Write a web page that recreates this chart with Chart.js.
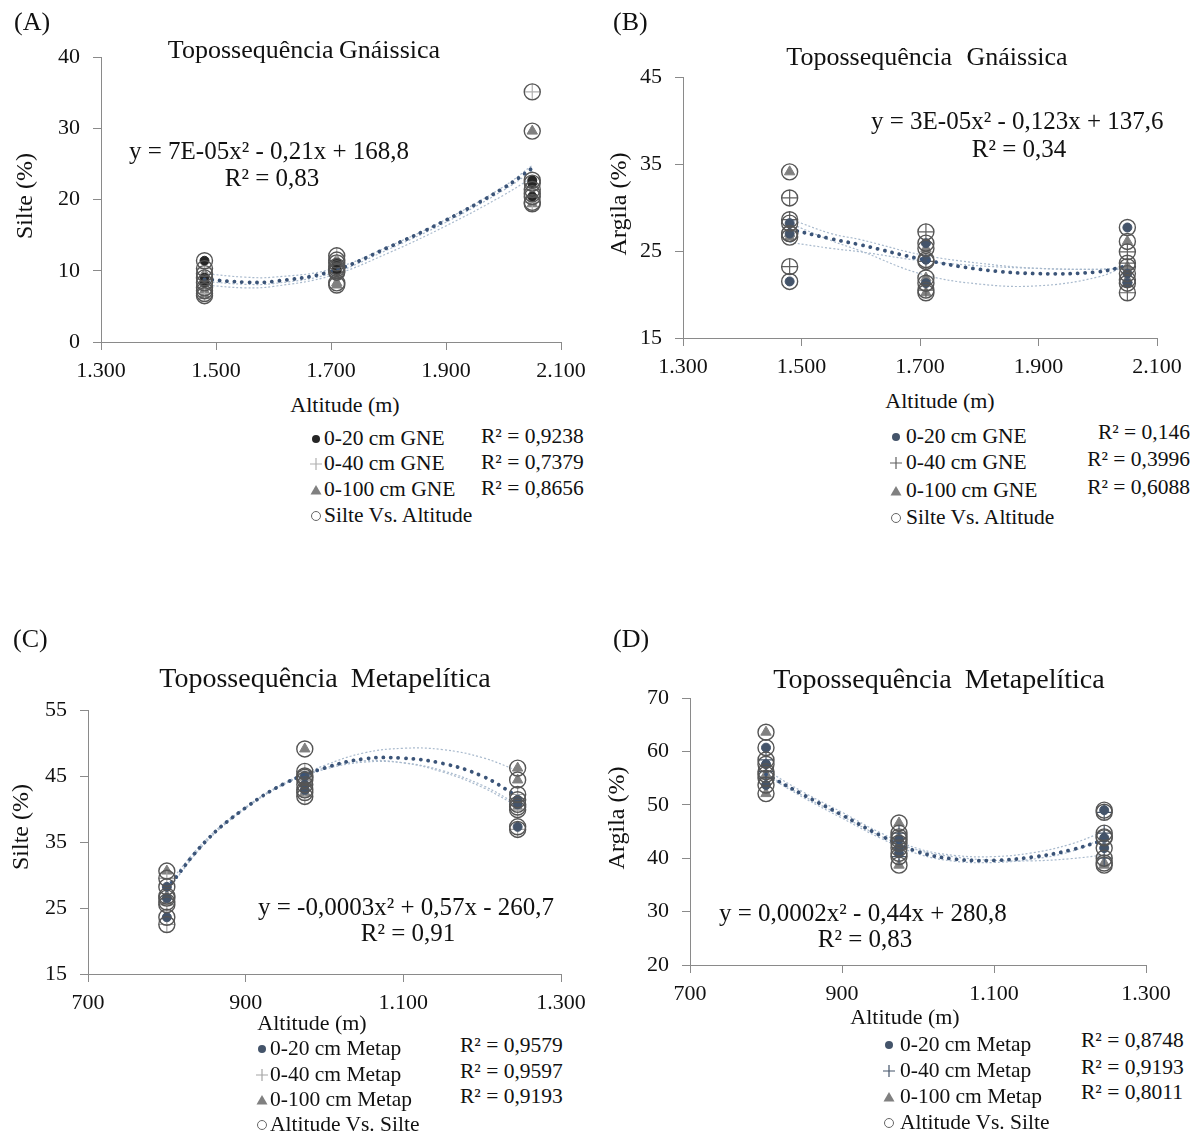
<!DOCTYPE html>
<html>
<head>
<meta charset="utf-8">
<script src="https://cdn.jsdelivr.net/npm/chart.js@4.4.0/dist/chart.umd.min.js"></script>
<style>
  body { margin: 0; background: #fff; }
  #page { position: relative; width: 1200px; height: 1133px; overflow: hidden;
          font-family: "Liberation Serif", "Times New Roman", serif; color: #111; }
  .cv { position: absolute; }
  .t { position: absolute; white-space: nowrap; line-height: 1; }
</style>
</head>
<body>
<div id="page"></div>
<script>
// ---- data ----
const altGne = [1480, 1480, 1480, 1710, 1710, 1710, 2050, 2050, 2050];
const altMet = [800, 800, 800, 975, 975, 975, 1245, 1245, 1245];

// (A) Silte, gnáissica
const silteA20 = [11.4, 9.0, 8.3, 11.1, 10.6, 10.0, 22.7, 22.3, 20.4];
const silteA40 = [10.3, 7.6, 6.8, 12.1, 10.3, 9.8, 35.1, 21.4, 19.6];
const silteA100 = [9.6, 7.2, 6.5, 11.5, 8.3, 8.0, 29.6, 20.8, 19.4];
const fitAltA = [1480, 1550, 1600, 1700, 1800, 1900, 2000, 2050];
const fitA = [8.8, 8.4, 8.5, 9.9, 13.3, 17.1, 21.6, 24.4];
const fitA20 = [9.6, 9.1, 9.1, 10.2, 13.4, 17.2, 21.8, 24.8];
const fitA40 = [8.5, 8.1, 8.2, 9.6, 13.0, 16.8, 21.3, 24.0];
const fitA100 = [8.0, 7.6, 7.8, 9.3, 12.5, 16.3, 20.6, 23.1];

// (B) Argila, gnáissica
const argilaB20 = [28.2, 27.0, 21.5, 25.9, 24.0, 21.3, 27.7, 22.4, 21.3];
const argilaB40 = [31.1, 28.6, 23.2, 27.2, 23.8, 20.5, 24.9, 23.6, 20.2];
const argilaB100 = [34.1, 26.6, 27.0, 25.3, 21.9, 20.2, 26.1, 23.2, 21.7];
const fitAltB = [1480, 1550, 1600, 1700, 1800, 1900, 2000, 2050];
const fitB = [27.5, 26.4, 25.7, 24.1, 22.9, 22.4, 22.6, 23.3];
const fitB20 = [28.7, 27.0, 26.3, 24.6, 23.6, 23.0, 22.9, 23.0];
const fitB40 = [26.0, 25.3, 24.9, 23.9, 23.3, 23.0, 22.9, 23.1];
const fitB100 = [28.2, 26.2, 25.0, 22.4, 21.2, 21.0, 22.0, 23.4];

// (C) Silte, metapelítica
const silteC20 = [28.2, 26.5, 23.6, 45.0, 43.7, 42.9, 41.4, 40.7, 37.3];
const silteC40 = [29.5, 25.5, 22.5, 45.7, 44.4, 41.9, 42.2, 39.9, 36.9];
const silteC100 = [30.6, 26.8, 25.9, 49.1, 44.8, 42.5, 46.2, 44.4, 40.3];
const fitAltC = [800, 850, 900, 950, 1000, 1050, 1100, 1150, 1200, 1245];
const fitC = [27.9, 35.2, 40.2, 43.9, 46.2, 47.6, 47.7, 46.9, 45.0, 41.9];
const fitC20 = [27.5, 35.0, 40.1, 43.8, 46.0, 47.1, 47.0, 45.8, 43.6, 40.7];
const fitC40 = [27.6, 35.1, 40.2, 43.9, 46.2, 47.3, 47.0, 45.6, 43.3, 40.4];
const fitC100 = [28.4, 35.4, 40.3, 44.0, 46.6, 48.5, 49.2, 49.0, 47.8, 45.8];

// (D) Argila, metapelítica
const argilaD20 = [60.7, 57.6, 53.7, 43.5, 41.9, 40.9, 49.0, 43.8, 41.9];
const argilaD40 = [58.4, 56.2, 55.0, 44.7, 42.8, 40.3, 48.6, 44.7, 40.0];
const argilaD100 = [63.6, 55.7, 52.1, 46.6, 44.0, 38.7, 44.0, 39.1, 38.7];
const fitAltD = [800, 850, 900, 950, 1000, 1050, 1100, 1150, 1200, 1245];
const fitD = [55.7, 51.8, 48.1, 44.3, 41.2, 39.8, 39.6, 40.2, 41.5, 43.4];
const fitD20 = [56.5, 52.3, 48.6, 44.8, 41.8, 40.5, 40.3, 41.0, 42.6, 45.0];
const fitD40 = [55.5, 51.3, 47.5, 43.8, 40.8, 39.4, 39.2, 39.8, 41.2, 43.8];
const fitD100 = [55.8, 51.6, 47.9, 44.2, 41.5, 40.2, 39.6, 39.5, 39.9, 40.6];

const legendGne = ['0-20 cm GNE', '0-40 cm GNE', '0-100 cm GNE', 'Silte Vs. Altitude'];
const legendMet = ['0-20 cm Metap', '0-40 cm Metap', '0-100 cm Metap', 'Altitude Vs. Silte'];
const r2A = ['R² = 0,9238', 'R² = 0,7379', 'R² = 0,8656'];
const r2B = ['R² = 0,146', 'R² = 0,3996', 'R² = 0,6088'];
const r2C = ['R² = 0,9579', 'R² = 0,9597', 'R² = 0,9193'];
const r2D = ['R² = 0,8748', 'R² = 0,9193', 'R² = 0,8011'];

const FONT = '"Liberation Serif", "Times New Roman", serif';
const page = document.getElementById('page');
const blue = '#44546a';

function text(str, x, y, size, opts = {}) {
  const d = document.createElement('div');
  d.className = 't';
  d.textContent = str;
  d.style.fontSize = size + 'px';
  d.style.left = x + 'px';
  d.style.top = y + 'px';
  let tx = opts.align === 'center' ? '-50%' : opts.align === 'right' ? '-100%' : '0';
  d.style.transform = `translate(${tx}, -50%)`;
  if (opts.ws) d.style.wordSpacing = opts.ws + 'px';
  page.appendChild(d);
  return d;
}

function rotated(str, cx, cy, size) {
  const d = document.createElement('div');
  d.className = 't';
  d.textContent = str;
  d.style.fontSize = size + 'px';
  d.style.left = cx + 'px';
  d.style.top = cy + 'px';
  d.style.transform = 'translate(-50%, -50%) rotate(-90deg)';
  page.appendChild(d);
}

function marker(kind, color, cx, cy) {
  const ns = 'http://www.w3.org/2000/svg';
  const s = document.createElementNS(ns, 'svg');
  s.setAttribute('width', 14); s.setAttribute('height', 14);
  s.style.position = 'absolute';
  s.style.left = (cx - 7) + 'px'; s.style.top = (cy - 7) + 'px';
  let el;
  if (kind === 'dot') {
    el = document.createElementNS(ns, 'circle');
    el.setAttribute('cx', 7); el.setAttribute('cy', 7); el.setAttribute('r', 4);
    el.setAttribute('fill', color);
  } else if (kind === 'plus') {
    el = document.createElementNS(ns, 'path');
    el.setAttribute('d', 'M7 1 V13 M1 7 H13');
    el.setAttribute('stroke', color); el.setAttribute('stroke-width', 1.2);
  } else if (kind === 'tri') {
    el = document.createElementNS(ns, 'path');
    el.setAttribute('d', 'M7 2 L12.5 11.5 L1.5 11.5 Z');
    el.setAttribute('fill', '#808080');
  } else {
    el = document.createElementNS(ns, 'circle');
    el.setAttribute('cx', 7); el.setAttribute('cy', 7); el.setAttribute('r', 4.5);
    el.setAttribute('fill', 'none'); el.setAttribute('stroke', '#666'); el.setAttribute('stroke-width', 1);
  }
  s.appendChild(el);
  page.appendChild(s);
}

const fmt = v => v >= 1000 ? Math.floor(v / 1000) + '.' + String(v % 1000).padStart(3, '0') : String(v);
const pts = (xs, ys) => ys.map((y, i) => ({ x: xs[i], y }));

function panel(p) {
  const c = document.createElement('canvas');
  c.className = 'cv';
  c.width = p.w; c.height = p.h;
  c.style.left = p.left + 'px'; c.style.top = p.top + 'px';
  page.appendChild(c);

  const allX = p.alt.concat(p.alt, p.alt);
  const allY = p.s20.concat(p.s40, p.s100);
  const thin = (ys) => ({
    data: pts(p.fitX, ys), showLine: true, pointRadius: 0, tension: 0.4,
    borderColor: '#a9bacd', borderWidth: 1.2, borderDash: [2, 2]
  });

  new Chart(c, {
    type: 'scatter',
    data: {
      datasets: [
        { data: pts(allX, allY), pointStyle: 'circle', pointRadius: 8,
          backgroundColor: 'rgba(0,0,0,0)', borderColor: '#555', borderWidth: 1.4 },
        { data: pts(p.fitX, p.fit), showLine: true, pointRadius: 0, tension: 0.4,
          borderColor: '#3b5478', borderWidth: 3.8, borderDash: [0.1, 7.4], borderCapStyle: 'round' },
        { data: pts(p.alt, p.s20), pointStyle: 'circle', pointRadius: 4.5,
          backgroundColor: p.c20, borderColor: p.c20 },
        { data: pts(p.alt, p.s40), pointStyle: 'cross', pointRadius: 8,
          borderColor: p.c40, borderWidth: 1.2 },
        { data: pts(p.alt, p.s100), pointStyle: 'triangle', pointRadius: 6,
          backgroundColor: '#808080', borderColor: '#808080' },
        thin(p.fit20), thin(p.fit40), thin(p.fit100)
      ]
    },
    options: {
      responsive: false,
      animation: false,
      layout: { padding: { left: 0, top: p.area.t - p.top, right: p.left + p.w - p.area.r, bottom: 0 } },
      plugins: { legend: { display: false }, tooltip: { enabled: false } },
      scales: {
        x: {
          type: 'linear', min: p.xMin, max: p.xMax,
          afterFit: s => { s.height = 45; },
          ticks: { stepSize: 200, callback: fmt, padding: 8, color: '#111', font: { family: FONT, size: 22 } },
          grid: { drawOnChartArea: false, tickLength: 8, color: '#8a8a8a' },
          border: { color: '#8a8a8a' }
        },
        y: {
          min: p.yMin, max: p.yMax,
          afterFit: s => { s.width = p.area.l - p.left; },
          ticks: { stepSize: 10, padding: 13, color: '#111', font: { family: FONT, size: 22 } },
          grid: { drawOnChartArea: false, tickLength: 8, color: '#8a8a8a' },
          border: { color: '#8a8a8a' }
        }
      }
    }
  });

  // overlays
  text(p.tag, p.tagX, p.tagY, 26);
  text(p.title, p.titleX, p.titleY, p.titleSize, { align: 'center', ws: p.titleWs });
  rotated(p.yTitle, p.yTitleX, p.yTitleY, 24);
  text('Altitude (m)', p.xTitleX, p.xTitleY, 22, { align: 'center' });
  text(p.eq, p.eqX, p.eqY, 25);
  text(p.eqR2, p.r2X, p.r2Y, 25, { align: 'center' });
  const kinds = ['dot', 'plus', 'tri', 'ring'];
  const cols = [p.c20, p.c40, '#808080', '#666'];
  p.legend.forEach((lab, i) => {
    marker(kinds[i], cols[i], p.lgMarkX, p.lgRows[i]);
    text(lab, p.lgTextX, p.lgRows[i], 21.5);
  });
  p.r2.forEach((r, i) => {
    text(r, p.r2ListX, p.r2Rows[i], 21.5, { align: p.r2Align });
  });
}

panel({
  tag: '(A)', tagX: 14, tagY: 22,
  left: 0, top: 0, w: 600, h: 387, area: { l: 101, r: 561, t: 57 },
  xMin: 1300, xMax: 2100, yMin: 0, yMax: 40,
  alt: altGne, s20: silteA20, s40: silteA40, s100: silteA100,
  fitX: fitAltA, fit: fitA, fit20: fitA20, fit40: fitA40, fit100: fitA100,
  c20: '#262626', c40: '#b0b0b0',
  title: 'Topossequência Gnáissica', titleX: 304, titleY: 50, titleSize: 26, titleWs: -1,
  yTitle: 'Silte (%)', yTitleX: 24, yTitleY: 196,
  xTitleX: 345, xTitleY: 405,
  eq: 'y = 7E-05x² - 0,21x + 168,8', eqX: 129, eqY: 150,
  eqR2: 'R² = 0,83', r2X: 272, r2Y: 177,
  legend: legendGne, lgMarkX: 316, lgTextX: 324, lgRows: [439, 464, 490, 516],
  r2: r2A, r2ListX: 481, r2Rows: [437, 463, 489], r2Align: 'left'
});

panel({
  tag: '(B)', tagX: 613, tagY: 22,
  left: 600, top: 0, w: 600, h: 383, area: { l: 683, r: 1157, t: 77 },
  xMin: 1300, xMax: 2100, yMin: 15, yMax: 45,
  alt: altGne, s20: argilaB20, s40: argilaB40, s100: argilaB100,
  fitX: fitAltB, fit: fitB, fit20: fitB20, fit40: fitB40, fit100: fitB100,
  c20: blue, c40: '#606060',
  title: 'Topossequência Gnáissica', titleX: 927, titleY: 57, titleSize: 26, titleWs: 8,
  yTitle: 'Argila (%)', yTitleX: 618, yTitleY: 204,
  xTitleX: 940, xTitleY: 401,
  eq: 'y = 3E-05x² - 0,123x + 137,6', eqX: 871, eqY: 120,
  eqR2: 'R² = 0,34', r2X: 1019, r2Y: 148,
  legend: legendGne, lgMarkX: 896, lgTextX: 906, lgRows: [437, 463, 491, 518],
  r2: r2B, r2ListX: 1190, r2Rows: [433, 460, 488], r2Align: 'right'
});

panel({
  tag: '(C)', tagX: 13, tagY: 639,
  left: 0, top: 600, w: 600, h: 419, area: { l: 88, r: 561, t: 710 },
  xMin: 700, xMax: 1300, yMin: 15, yMax: 55,
  alt: altMet, s20: silteC20, s40: silteC40, s100: silteC100,
  fitX: fitAltC, fit: fitC, fit20: fitC20, fit40: fitC40, fit100: fitC100,
  c20: blue, c40: '#a6a6a6',
  title: 'Topossequência Metapelítica', titleX: 325, titleY: 678, titleSize: 28, titleWs: 6,
  yTitle: 'Silte (%)', yTitleX: 20, yTitleY: 827,
  xTitleX: 312, xTitleY: 1023,
  eq: 'y = -0,0003x² + 0,57x - 260,7', eqX: 258, eqY: 906,
  eqR2: 'R² = 0,91', r2X: 408, r2Y: 932,
  legend: legendMet, lgMarkX: 262, lgTextX: 270, lgRows: [1049, 1075, 1100, 1125],
  r2: r2C, r2ListX: 460, r2Rows: [1046, 1072, 1097], r2Align: 'left'
});

panel({
  tag: '(D)', tagX: 613, tagY: 639,
  left: 600, top: 600, w: 600, h: 410, area: { l: 690, r: 1146, t: 698 },
  xMin: 700, xMax: 1300, yMin: 20, yMax: 70,
  alt: altMet, s20: argilaD20, s40: argilaD40, s100: argilaD100,
  fitX: fitAltD, fit: fitD, fit20: fitD20, fit40: fitD40, fit100: fitD100,
  c20: blue, c40: blue,
  title: 'Topossequência Metapelítica', titleX: 939, titleY: 679, titleSize: 28, titleWs: 6,
  yTitle: 'Argila (%)', yTitleX: 616, yTitleY: 818,
  xTitleX: 905, xTitleY: 1017,
  eq: 'y = 0,0002x² - 0,44x + 280,8', eqX: 719, eqY: 912,
  eqR2: 'R² = 0,83', r2X: 865, r2Y: 938,
  legend: legendMet, lgMarkX: 889, lgTextX: 900, lgRows: [1045, 1071, 1097, 1123],
  r2: r2D, r2ListX: 1081, r2Rows: [1041, 1068, 1093], r2Align: 'left'
});
</script>
</body>
</html>
